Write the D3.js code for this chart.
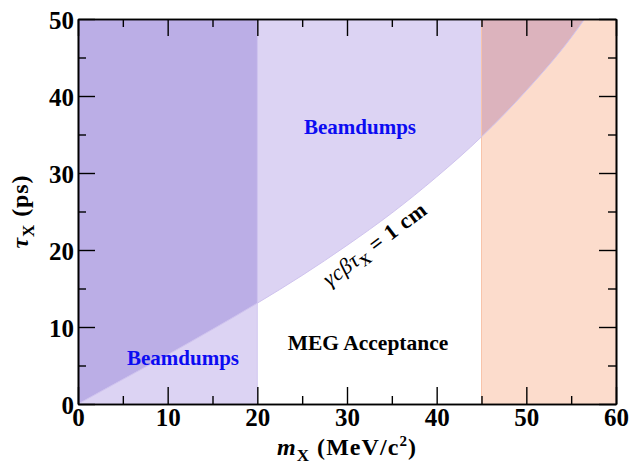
<!DOCTYPE html>
<html><head><meta charset="utf-8">
<script src="https://cdn.jsdelivr.net/npm/d3@7"></script>
<style>
body{margin:0;background:#fff;}
svg{display:block;font-family:"Liberation Serif","Times New Roman",serif;}
</style></head>
<body>
<svg id="chart" width="630" height="465"></svg>
<script>
// ---- data ----
const massPoints = [0, 5, 10, 15, 20, 25, 30, 35, 40, 45, 50, 55, 56.5];          // m_X (MeV/c^2)
const lifetimeAt1cm = [0, 3.2, 6.4, 9.7, 13.1, 16.7, 20.6, 24.8, 29.5, 34.7, 40.7, 47.6, 50]; // tau_X (ps) for gamma c beta tau = 1 cm
const lowMassBeamdumpMax = 20;   // beamdump band 0..20 MeV
const excludedMassMin = 45;      // peach band 45..60 MeV
const xDomain = [0, 60];
const yDomain = [0, 50];
const xMajorTicks = [0, 10, 20, 30, 40, 50, 60];
const xMinorTicks = [5, 15, 25, 35, 45, 55];
const yMajorTicks = [0, 10, 20, 30, 40, 50];
const yMinorTicks = [5, 15, 25, 35, 45];

const curve = massPoints.map((m, i) => ({m, t: lifetimeAt1cm[i]}));

const W = 630, H = 465;
const margin = {left: 78, right: 14, top: 19, bottom: 61};
const svg = d3.select("#chart");
const x = d3.scaleLinear().domain(xDomain).range([margin.left, W - margin.right]);
const y = d3.scaleLinear().domain(yDomain).range([H - margin.bottom, margin.top]);
const x0 = x(xDomain[0]), x1 = x(xDomain[1]), y0 = y(yDomain[0]), y1 = y(yDomain[1]);

const lightPurple = "#dcd3f3", darkPurple = "#bbaee6", peach = "#fcdccc", pink = "#dcb3bd";

const defs = svg.append("defs");
defs.append("clipPath").attr("id", "plotClip").append("rect")
  .attr("x", x0).attr("y", y1).attr("width", x1 - x0).attr("height", y0 - y1);
defs.append("clipPath").attr("id", "lowClip").append("rect")
  .attr("x", x(0)).attr("y", y1).attr("width", x(lowMassBeamdumpMax) - x(0)).attr("height", y0 - y1);
defs.append("clipPath").attr("id", "highClip").append("rect")
  .attr("x", x(excludedMassMin)).attr("y", y1).attr("width", x(xDomain[1]) - x(excludedMassMin)).attr("height", y0 - y1);

const area = d3.area().x(d => x(d.m)).y0(y(yDomain[1])).y1(d => y(d.t)).curve(d3.curveMonotoneX);
const line = d3.line().x(d => x(d.m)).y(d => y(d.t)).curve(d3.curveMonotoneX);

const g = svg.append("g").attr("clip-path", "url(#plotClip)");
g.append("rect").attr("x", x(0)).attr("y", y1).attr("width", x(lowMassBeamdumpMax) - x(0)).attr("height", y0 - y1)
  .attr("fill", lightPurple);
g.append("path").datum(curve).attr("d", area).attr("fill", lightPurple);
g.append("path").datum(curve).attr("d", area).attr("fill", darkPurple).attr("clip-path", "url(#lowClip)");
g.append("rect").attr("x", x(excludedMassMin)).attr("y", y1).attr("width", x(xDomain[1]) - x(excludedMassMin)).attr("height", y0 - y1)
  .attr("fill", peach);
g.append("path").datum(curve).attr("d", area).attr("fill", pink).attr("clip-path", "url(#highClip)");
g.append("line").attr("x1", x(excludedMassMin)).attr("x2", x(excludedMassMin)).attr("y1", y1).attr("y2", y0)
  .attr("stroke", "#f8c4aa").attr("stroke-width", 1);
g.append("path").datum(curve).attr("d", line).attr("fill", "none").attr("stroke", "#cfc3ee").attr("stroke-width", 1);
g.append("line").attr("x1", x(lowMassBeamdumpMax)).attr("x2", x(lowMassBeamdumpMax)).attr("y1", y1).attr("y2", y0)
  .attr("stroke", "#cdc2ee").attr("stroke-width", 0.8);

// ---- axes ----
const major = 17, minor = 8;
const axG = svg.append("g");
function ticksOn(axisGen, scaleTicks, size, transform, labels) {
  const a = axisGen.tickValues(scaleTicks).tickSizeInner(-size).tickSizeOuter(0);
  if (!labels) a.tickFormat("");
  else a.tickPadding(5).tickFormat(d3.format("d"));
  const gg = axG.append("g").attr("transform", transform).call(a);
  gg.select(".domain").attr("stroke", "#000").attr("stroke-width", 1.6);
  gg.selectAll(".tick line").attr("stroke", "#000").attr("stroke-width", 1.4);
  gg.selectAll(".tick text").attr("fill", "#000").style("font-family", '"Liberation Serif",serif')
    .style("font-weight", "bold").style("font-size", "25px");
  return gg;
}
const bx = ticksOn(d3.axisBottom(x), xMajorTicks, major, `translate(0,${y0})`, true);
bx.selectAll(".tick text").attr("dy", 0).attr("y", 22);
ticksOn(d3.axisBottom(x), xMinorTicks, minor, `translate(0,${y0})`, false);
ticksOn(d3.axisTop(x), xMajorTicks, major, `translate(0,${y1})`, false);
ticksOn(d3.axisTop(x), xMinorTicks, minor, `translate(0,${y1})`, false);
const ly = ticksOn(d3.axisLeft(y), yMajorTicks, major, `translate(${x0},0)`, true);
ly.selectAll(".tick text").attr("x", -4).attr("dy", "0.36em");
ticksOn(d3.axisLeft(y), yMinorTicks, minor, `translate(${x0},0)`, false);
ticksOn(d3.axisRight(y), yMajorTicks, major, `translate(${x1},0)`, false);
ticksOn(d3.axisRight(y), yMinorTicks, minor, `translate(${x1},0)`, false);

// fit a text's advance to the width seen in the reference by adjusting letter spacing
function fitWidth(sel, target) {
  const n = sel.node();
  const w = n.getComputedTextLength();
  const chars = n.textContent.length;
  if (w > 0 && chars > 1) sel.attr("letter-spacing", ((target - w) / chars).toFixed(2));
}

// ---- axis titles ----
const xt = svg.append("text").attr("x", (x0 + x1) / 2).attr("y", 455).attr("text-anchor", "middle")
  .style("font-size", "24px").style("font-weight", "bold");
xt.append("tspan").style("font-style", "italic").text("m");
xt.append("tspan").attr("dy", 6).style("font-size", "17px").text("X");
xt.append("tspan").attr("dy", -6).text(" (MeV/c");
xt.append("tspan").attr("dy", -9).style("font-size", "15px").text("2");
xt.append("tspan").attr("dy", 9).text(")");
fitWidth(xt, 140);

const yt = svg.append("text").attr("transform", `translate(28,${(y0 + y1) / 2}) rotate(-90)`).attr("text-anchor", "middle")
  .style("font-size", "24px").style("font-weight", "bold");
yt.append("tspan").style("font-style", "italic").text("τ");
yt.append("tspan").attr("dy", 6).style("font-size", "17px").text("X");
yt.append("tspan").attr("dy", -6).text(" (ps)");
fitWidth(yt, 74);

// ---- annotations ----
svg.append("text").attr("x", 360).attr("y", 134).attr("text-anchor", "middle").attr("fill", "#0c0cf2")
  .style("font-size", "21px").style("font-weight", "bold").text("Beamdumps");
svg.append("text").attr("x", 183).attr("y", 365).attr("text-anchor", "middle").attr("fill", "#0c0cf2")
  .style("font-size", "21px").style("font-weight", "bold").text("Beamdumps");
svg.append("text").attr("x", 368).attr("y", 350).attr("text-anchor", "middle").attr("fill", "#000")
  .style("font-size", "21.5px").style("font-weight", "bold").text("MEG Acceptance");

const ct = svg.append("text").attr("transform", "translate(379,250) rotate(-37)").attr("text-anchor", "middle")
  .style("font-size", "22px").attr("fill", "#000");
ct.append("tspan").style("font-style", "italic").text("γcβτ");
ct.append("tspan").attr("dy", 5).style("font-size", "15px").style("font-weight", "bold").text("X");
ct.append("tspan").attr("dy", -5).style("font-weight", "bold").text(" = 1 cm");
fitWidth(ct, 124);
</script>
</body></html>
